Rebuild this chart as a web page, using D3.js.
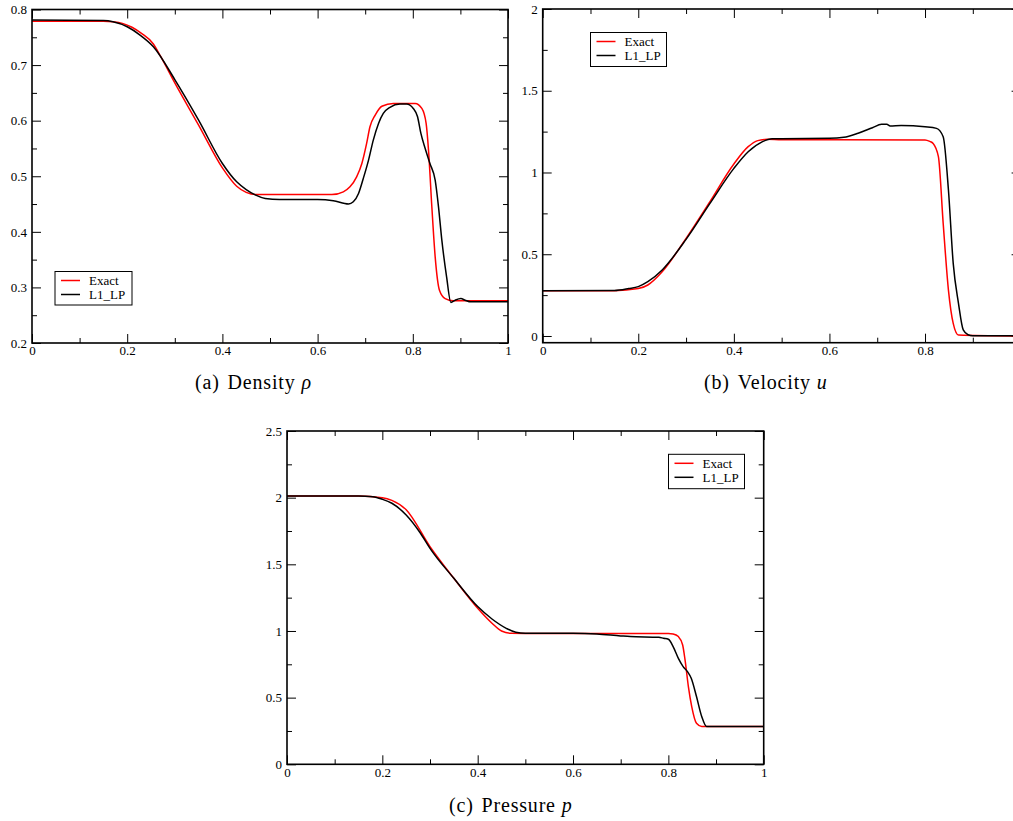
<!DOCTYPE html>
<html>
<head>
<meta charset="utf-8">
<script src="https://cdn.jsdelivr.net/npm/d3@7"></script>
<style>
  html, body { margin: 0; padding: 0; background: #fff; }
  svg { display: block; }
  text { font-family: "Liberation Serif", "Times New Roman", serif; }
</style>
</head>
<body>
<svg id="chart" width="1013" height="821"></svg>
<script>
// ---------- data ----------
const seriesNames = ["Exact", "L1_LP"];
const seriesColors = ["#ff0000", "#000000"];

// Density
const rhoExactX = [0, 0.15, 0.17, 0.19, 0.21, 0.23, 0.255, 0.27, 0.3, 0.35, 0.4, 0.43, 0.45, 0.47, 0.5, 0.6, 0.63, 0.654, 0.668, 0.682, 0.693, 0.703, 0.71, 0.721, 0.735, 0.759, 0.805, 0.819, 0.828, 0.833, 0.84, 0.847, 0.856, 0.868, 0.885, 1];
const rhoExactY = [0.779, 0.779, 0.778, 0.775, 0.768, 0.757, 0.738, 0.716, 0.668, 0.592, 0.515, 0.482, 0.471, 0.467, 0.467, 0.467, 0.467, 0.472, 0.481, 0.499, 0.523, 0.559, 0.589, 0.61, 0.626, 0.631, 0.631, 0.622, 0.595, 0.547, 0.445, 0.355, 0.295, 0.28, 0.276, 0.276];
const rhoL1X = [0, 0.15, 0.17, 0.2, 0.227, 0.255, 0.3, 0.35, 0.4, 0.43, 0.45, 0.47, 0.49, 0.52, 0.6, 0.633, 0.665, 0.675, 0.686, 0.696, 0.707, 0.717, 0.728, 0.738, 0.752, 0.773, 0.787, 0.801, 0.81, 0.817, 0.826, 0.836, 0.847, 0.854, 0.861, 0.871, 0.88, 0.889, 0.901, 0.91, 0.922, 1];
const rhoL1Y = [0.781, 0.78, 0.778, 0.769, 0.754, 0.733, 0.674, 0.601, 0.523, 0.49, 0.476, 0.466, 0.46, 0.458, 0.458, 0.456, 0.45, 0.454, 0.469, 0.496, 0.529, 0.565, 0.595, 0.613, 0.624, 0.63, 0.63, 0.622, 0.607, 0.577, 0.55, 0.523, 0.493, 0.445, 0.385, 0.319, 0.273, 0.277, 0.28, 0.277, 0.274, 0.274];

// Velocity
const uExactX = [0, 0.15, 0.2, 0.22, 0.25, 0.3, 0.35, 0.4, 0.43, 0.45, 0.47, 0.5, 0.8, 0.81, 0.817, 0.828, 0.838, 0.849, 0.859, 0.87, 1];
const uExactY = [0.277, 0.277, 0.29, 0.312, 0.393, 0.597, 0.822, 1.052, 1.158, 1.195, 1.203, 1.2, 1.199, 1.19, 1.178, 1.097, 0.689, 0.281, 0.077, 0.006, 0.0];
const uL1X = [0, 0.15, 0.18, 0.2, 0.22, 0.25, 0.3, 0.35, 0.4, 0.43, 0.46, 0.48, 0.5, 0.6, 0.63, 0.66, 0.69, 0.709, 0.72, 0.727, 0.75, 0.8, 0.824, 0.838, 0.849, 0.859, 0.87, 0.88, 0.89, 0.9, 1];
const uL1Y = [0.277, 0.278, 0.29, 0.302, 0.332, 0.404, 0.591, 0.811, 1.025, 1.127, 1.189, 1.207, 1.207, 1.209, 1.215, 1.24, 1.274, 1.295, 1.295, 1.285, 1.288, 1.28, 1.27, 1.219, 0.893, 0.444, 0.2, 0.037, 0.008, 0.002, 0.002];

// Pressure
const pExactX = [0, 0.15, 0.2, 0.22, 0.25, 0.3, 0.35, 0.4, 0.43, 0.45, 0.47, 0.5, 0.8, 0.81, 0.821, 0.83, 0.835, 0.842, 0.849, 0.859, 0.87, 1];
const pExactY = [2.012, 2.012, 2.0, 1.98, 1.91, 1.633, 1.395, 1.17, 1.058, 1.0, 0.983, 0.982, 0.982, 0.978, 0.958, 0.895, 0.783, 0.583, 0.433, 0.308, 0.284, 0.284];
const pL1X = [0, 0.15, 0.18, 0.2, 0.22, 0.25, 0.28, 0.3, 0.35, 0.4, 0.43, 0.46, 0.48, 0.5, 0.6, 0.65, 0.7, 0.72, 0.78, 0.79, 0.8, 0.81, 0.821, 0.831, 0.84, 0.848, 0.859, 0.87, 0.88, 1];
const pL1Y = [2.012, 2.012, 2.007, 1.988, 1.958, 1.87, 1.733, 1.62, 1.395, 1.183, 1.09, 1.02, 0.99, 0.983, 0.983, 0.978, 0.963, 0.958, 0.953, 0.945, 0.9375, 0.883, 0.795, 0.733, 0.695, 0.645, 0.508, 0.358, 0.284, 0.284];

// Ticks
const xTicks = [0, 0.2, 0.4, 0.6, 0.8, 1];
const xMinor = [0.1, 0.3, 0.5, 0.7, 0.9];
const rhoTicks = [0.2, 0.3, 0.4, 0.5, 0.6, 0.7, 0.8];
const rhoMinor = [0.25, 0.35, 0.45, 0.55, 0.65, 0.75];
const uTicks = [0, 0.5, 1, 1.5, 2];
const uMinor = [0.25, 0.75, 1.25, 1.75];
const pTicks = [0, 0.5, 1, 1.5, 2, 2.5];
const pMinor = [0.25, 0.75, 1.25, 1.75, 2.25];

// ---------- layout ----------
const svg = d3.select("#chart");
const fmt = d3.format("~g");
const VIEW_W = 1013;

const panels = [
  { left: 32, right: 508, top: 9.5, bottom: 343, yDomain: [0.2, 0.8],
    yTicks: rhoTicks, yMinor: rhoMinor,
    series: [[rhoExactX, rhoExactY], [rhoL1X, rhoL1Y]],
    legend: { x: 55, y: 271.5, w: 77, h: 33.5 },
    caption: { x: 195, y: 389, label: "(a)", word: "Density", sym: "ρ" } },
  { left: 542.7, right: 1020.6, top: 9, bottom: 342.7, yDomain: [-0.041, 2],
    yTicks: uTicks, yMinor: uMinor,
    series: [[uExactX, uExactY], [uL1X, uL1Y]],
    legend: { x: 590.5, y: 32.5, w: 76, h: 34 },
    caption: { x: 704, y: 389, label: "(b)", word: "Velocity", sym: "u" } },
  { left: 287, right: 763.7, top: 431, bottom: 764.3, yDomain: [0, 2.5],
    yTicks: pTicks, yMinor: pMinor,
    series: [[pExactX, pExactY], [pL1X, pL1Y]],
    legend: { x: 668.5, y: 454.3, w: 76, h: 34.4 },
    caption: { x: 449, y: 812, label: "(c)", word: "Pressure", sym: "p" } }
];

panels.forEach(P => {
  const x = d3.scaleLinear().domain([0, 1]).range([P.left, P.right]);
  const y = d3.scaleLinear().domain(P.yDomain).range([P.bottom, P.top]);
  const g = svg.append("g");
  const W = P.right - P.left, H = P.bottom - P.top;

  const styleAxis = (sel) => {
    sel.select(".domain").remove();
    sel.selectAll(".tick line").attr("stroke", "#000").attr("stroke-width", 1);
    sel.selectAll(".tick text").attr("fill", "#000")
      .style("font-family", "'Liberation Serif', serif").style("font-size", "13px");
  };

  // only label x ticks that fall inside the visible page
  const xLabelTicks = xTicks.filter(v => x(v) + 4 < VIEW_W);
  const xOther = xTicks.filter(v => !xLabelTicks.includes(v));

  // bottom
  g.append("g").attr("transform", `translate(0,${P.bottom})`)
    .call(d3.axisBottom(x).tickValues(xLabelTicks).tickFormat(fmt).tickSizeInner(-9).tickSizeOuter(0).tickPadding(3))
    .call(styleAxis);
  if (xOther.length) {
    g.append("g").attr("transform", `translate(0,${P.bottom})`)
      .call(d3.axisBottom(x).tickValues(xOther).tickFormat("").tickSizeInner(-9).tickSizeOuter(0))
      .call(styleAxis);
  }
  g.append("g").attr("transform", `translate(0,${P.bottom})`)
    .call(d3.axisBottom(x).tickValues(xMinor).tickFormat("").tickSizeInner(-5).tickSizeOuter(0))
    .call(styleAxis);
  // top
  g.append("g").attr("transform", `translate(0,${P.top})`)
    .call(d3.axisTop(x).tickValues(xTicks).tickFormat("").tickSizeInner(-9).tickSizeOuter(0))
    .call(styleAxis);
  g.append("g").attr("transform", `translate(0,${P.top})`)
    .call(d3.axisTop(x).tickValues(xMinor).tickFormat("").tickSizeInner(-5).tickSizeOuter(0))
    .call(styleAxis);
  // left
  g.append("g").attr("transform", `translate(${P.left},0)`)
    .call(d3.axisLeft(y).tickValues(P.yTicks).tickFormat(fmt).tickSizeInner(-9).tickSizeOuter(0).tickPadding(5))
    .call(styleAxis);
  g.append("g").attr("transform", `translate(${P.left},0)`)
    .call(d3.axisLeft(y).tickValues(P.yMinor).tickFormat("").tickSizeInner(-5).tickSizeOuter(0))
    .call(styleAxis);
  // right
  g.append("g").attr("transform", `translate(${P.right},0)`)
    .call(d3.axisRight(y).tickValues(P.yTicks).tickFormat("").tickSizeInner(-9).tickSizeOuter(0))
    .call(styleAxis);
  g.append("g").attr("transform", `translate(${P.right},0)`)
    .call(d3.axisRight(y).tickValues(P.yMinor).tickFormat("").tickSizeInner(-5).tickSizeOuter(0))
    .call(styleAxis);

  // curves
  const line = d3.line().x(d => x(d[0])).y(d => y(d[1])).curve(d3.curveMonotoneX);
  P.series.forEach((s, i) => {
    const pts = s[0].map((xv, k) => [xv, s[1][k]]);
    g.append("path").datum(pts).attr("d", line)
      .attr("fill", "none").attr("stroke", seriesColors[i]).attr("stroke-width", 1.5)
      .attr("stroke-linejoin", "round");
  });

  // frame
  g.append("rect").attr("x", P.left).attr("y", P.top).attr("width", W).attr("height", H)
    .attr("fill", "none").attr("stroke", "#000").attr("stroke-width", 1.6);

  // legend
  const L = P.legend;
  const lg = g.append("g").attr("transform", `translate(${L.x},${L.y})`);
  lg.append("rect").attr("width", L.w).attr("height", L.h)
    .attr("fill", "#fff").attr("stroke", "#000").attr("stroke-width", 1);
  seriesNames.forEach((name, i) => {
    const ry = 9 + i * 14;
    lg.append("line").attr("x1", 6).attr("x2", 25).attr("y1", ry).attr("y2", ry)
      .attr("stroke", seriesColors[i]).attr("stroke-width", 1.5);
    lg.append("text").attr("x", 34).attr("y", ry).attr("dy", "0.35em")
      .style("font-size", "13px").attr("fill", "#000").text(name);
  });

  // caption
  const C = P.caption;
  const t = svg.append("text").attr("x", C.x).attr("y", C.y)
    .style("font-size", "20px").style("letter-spacing", "0.8px").attr("fill", "#000");
  t.append("tspan").text(C.label);
  t.append("tspan").attr("dx", 8).text(C.word);
  t.append("tspan").attr("dx", 6).style("font-style", "italic").text(C.sym);
});
</script>
</body>
</html>
